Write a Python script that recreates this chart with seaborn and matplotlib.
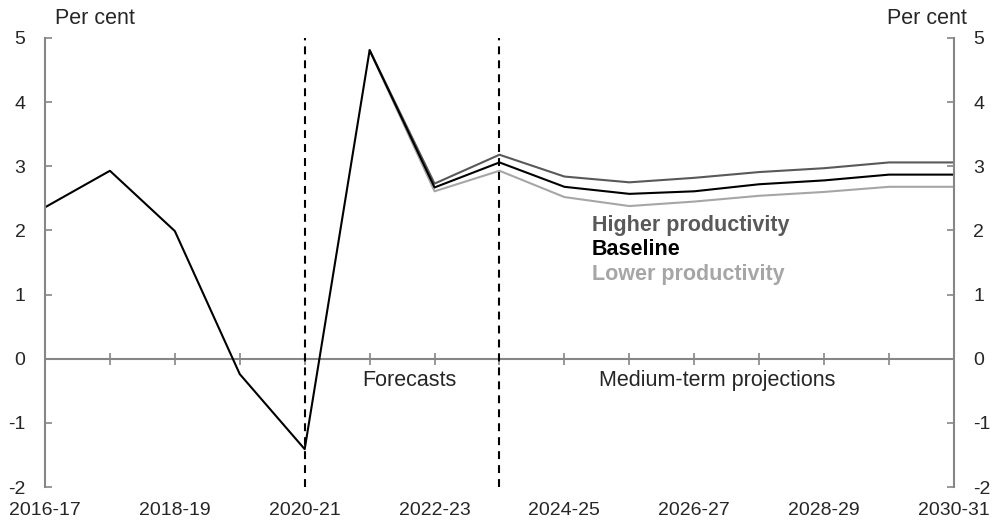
import numpy as np
import pandas as pd
import matplotlib
matplotlib.use('Agg')
import matplotlib.pyplot as plt
import seaborn as sns

sns.set_style('white')
plt.rcParams['font.family'] = ['Liberation Sans', 'DejaVu Sans']

# Financial years on the x axis
years = ['2016-17', '2017-18', '2018-19', '2019-20', '2020-21', '2021-22', '2022-23',
         '2023-24', '2024-25', '2025-26', '2026-27', '2027-28', '2028-29', '2029-30',
         '2030-31']
tick_years = years[::2]

baseline = [2.36, 2.93, 1.99, -0.24, -1.41, 4.81, 2.67, 3.06, 2.68, 2.57, 2.61, 2.72,
            2.78, 2.87, 2.87]
higher = [np.nan, np.nan, np.nan, np.nan, np.nan, 4.81, 2.73, 3.18, 2.84, 2.75, 2.82,
          2.91, 2.97, 3.06, 3.06]
lower = [np.nan, np.nan, np.nan, np.nan, np.nan, 4.81, 2.61, 2.93, 2.52, 2.38, 2.45,
         2.54, 2.60, 2.68, 2.68]

forecast_start = '2020-21'
projection_start = '2023-24'

grey_axis = '#868686'
col_higher = '#595959'
col_base = '#000000'
col_lower = '#a6a6a6'

x = np.arange(len(years))
df = pd.DataFrame({'x': x, 'baseline': baseline, 'higher': higher, 'lower': lower})

fig = plt.figure(figsize=(9.95, 5.27), dpi=100)
ax = fig.add_axes([0.0452, 0.0759, 0.9136, 0.852])

sns.lineplot(data=df, x='x', y='lower', color=col_lower, linewidth=1.5, ax=ax)
sns.lineplot(data=df, x='x', y='higher', color=col_higher, linewidth=1.5, ax=ax)
sns.lineplot(data=df, x='x', y='baseline', color=col_base, linewidth=1.5, ax=ax)

# zero line with year ticks
ax.axhline(0, color=grey_axis, linewidth=1.5, zorder=1)
ax.plot(x, np.zeros(len(x)), linestyle='none', marker='|', markersize=9,
        markeredgewidth=1.2, color=grey_axis, zorder=1)

# forecast / projection dividers
for yr in [forecast_start, projection_start]:
    ax.axvline(years.index(yr), color='black', linewidth=1.5,
               linestyle=(0, (3.8, 2.9)), zorder=3)

ax.set_xlim(0, len(years) - 1)
ax.set_ylim(-2, 5)
ax.set_xticks(x[::2])
ax.set_xticklabels(tick_years, fontsize=14)
ax.set_yticks(range(-2, 6))
ax.set_yticklabels([str(v) for v in range(-2, 6)], fontsize=14)
ax.tick_params(axis='x', length=0, pad=11)
ax.tick_params(axis='y', direction='in', length=5, width=1.2, color=grey_axis,
               left=True, right=True, labelleft=True, labelright=True)
ax.tick_params(axis='y', which='major', pad=14)
ax.set_xlabel('')
ax.set_ylabel('')

for side in ['top', 'bottom']:
    ax.spines[side].set_visible(False)
for side in ['left', 'right']:
    ax.spines[side].set_color(grey_axis)
    ax.spines[side].set_linewidth(1.5)

fig.text(55 / 995, 1 - 18 / 527, 'Per cent', fontsize=15.5, ha='left', va='center')
fig.text(967 / 995, 1 - 18 / 527, 'Per cent', fontsize=15.5, ha='right', va='center')

ax.text(5.61, -0.34, 'Forecasts', fontsize=15.5, ha='center', va='center')
ax.text(10.35, -0.34, 'Medium-term projections', fontsize=15.5, ha='center', va='center')

ax.text(8.42, 2.08, 'Higher productivity', fontsize=15.5, fontweight='bold',
        color=col_higher, ha='left', va='center')
ax.text(8.42, 1.7, 'Baseline', fontsize=15.5, fontweight='bold',
        color=col_base, ha='left', va='center')
ax.text(8.42, 1.32, 'Lower productivity', fontsize=15.5, fontweight='bold',
        color=col_lower, ha='left', va='center')

fig.savefig('out.png', dpi=100)
